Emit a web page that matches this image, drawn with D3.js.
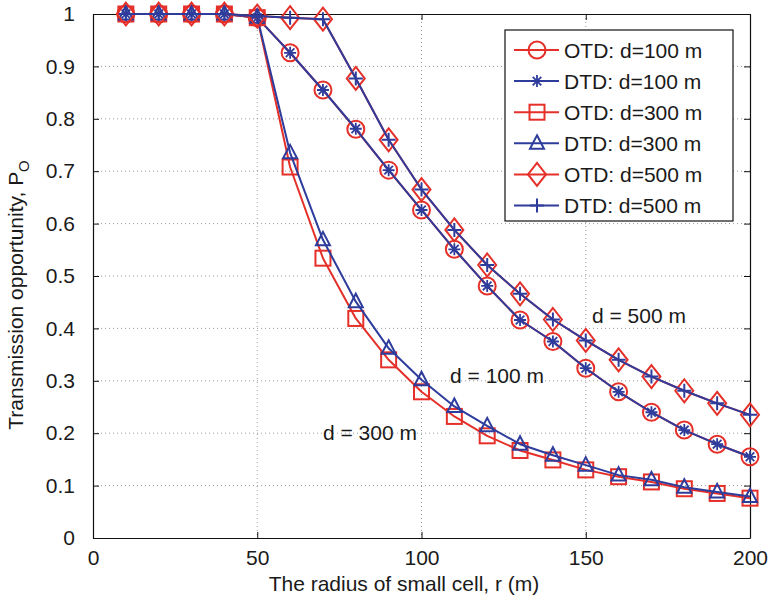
<!DOCTYPE html>
<html>
<head>
<meta charset="utf-8">
<script src="https://cdn.jsdelivr.net/npm/d3@7"></script>
<style>
  html, body { margin: 0; padding: 0; background: #fff; }
  svg { display: block; }
  text { font-family: "Liberation Sans", Arial, Helvetica, sans-serif; fill: #1a1a1a; }
</style>
</head>
<body>
<svg id="chart" width="769" height="598"></svg>
<script>
// ---------- data ----------
const radius = [10, 20, 30, 40, 50, 60, 70, 80, 90, 100, 110, 120, 130, 140, 150, 160, 170, 180, 190, 200];
const otd100 = [1, 1, 1, 1, 0.993, 0.926, 0.855, 0.780, 0.702, 0.626, 0.551, 0.481, 0.416, 0.375, 0.324, 0.279, 0.240, 0.206, 0.179, 0.155];
const dtd100 = [1, 1, 1, 1, 0.993, 0.926, 0.855, 0.781, 0.702, 0.626, 0.551, 0.481, 0.416, 0.375, 0.324, 0.279, 0.240, 0.206, 0.179, 0.155];
const otd300 = [1, 1, 1, 1, 0.993, 0.708, 0.534, 0.419, 0.340, 0.279, 0.232, 0.195, 0.167, 0.149, 0.130, 0.117, 0.107, 0.094, 0.085, 0.076];
const dtd300 = [1, 1, 1, 1, 0.994, 0.735, 0.569, 0.451, 0.362, 0.302, 0.251, 0.214, 0.179, 0.158, 0.139, 0.120, 0.111, 0.097, 0.088, 0.079];
const otd500 = [1, 1, 1, 1, 0.996, 0.993, 0.990, 0.877, 0.760, 0.665, 0.588, 0.521, 0.466, 0.417, 0.377, 0.340, 0.308, 0.281, 0.257, 0.235];
const dtd500 = [1, 1, 1, 1, 0.996, 0.993, 0.990, 0.877, 0.760, 0.665, 0.588, 0.521, 0.466, 0.417, 0.377, 0.340, 0.308, 0.281, 0.257, 0.235];

const seriesNames = ["OTD: d=100 m", "DTD: d=100 m", "OTD: d=300 m", "DTD: d=300 m", "OTD: d=500 m", "DTD: d=500 m"];
const seriesValues = [otd100, dtd100, otd300, dtd300, otd500, dtd500];
const seriesMarkers = ["circle", "asterisk", "square", "triangle", "diamond", "plus"];

const xTicks = [0, 50, 100, 150, 200];
const xTickLabels = ["0", "50", "100", "150", "200"];
const yTicks = [0, 0.1, 0.2, 0.3, 0.4, 0.5, 0.6, 0.7, 0.8, 0.9, 1];
const yTickLabels = ["0", "0.1", "0.2", "0.3", "0.4", "0.5", "0.6", "0.7", "0.8", "0.9", "1"];

const annotations = [
  { text: "d = 500 m", x: 151.9, y: 0.41 },
  { text: "d = 100 m", x: 108.7, y: 0.296 },
  { text: "d = 300 m", x: 70.0, y: 0.187 }
];

const xLabel = "The radius of small cell, r (m)";
const yLabel = "Transmission opportunity, P";
const yLabelSub = "O";

// ---------- styles ----------
const RED = "#e5302a";
const BLUE = "#2e3c9c";
const seriesColors = [RED, BLUE, RED, BLUE, RED, BLUE];
const FONT = 21;

// ---------- layout ----------
const svg = d3.select("#chart");
const L = 93, R = 750, T = 14, B = 538;
const x = d3.scaleLinear().domain([0, 200]).range([L, R]);
const y = d3.scaleLinear().domain([0, 1]).range([B, T]);

// grid
const grid = svg.append("g");
grid.selectAll("line.gx").data(xTicks.filter(d => d > 0 && d < 200)).enter().append("line")
  .attr("x1", d => x(d)).attr("x2", d => x(d)).attr("y1", T).attr("y2", B)
  .attr("stroke", "#9a9a9a").attr("stroke-width", 1).attr("stroke-dasharray", "1,3");
grid.selectAll("line.gy").data(yTicks.filter(d => d > 0 && d < 1)).enter().append("line")
  .attr("y1", d => y(d)).attr("y2", d => y(d)).attr("x1", L).attr("x2", R)
  .attr("stroke", "#9a9a9a").attr("stroke-width", 1).attr("stroke-dasharray", "1,3");

// axes (ticks inward on all sides)
function styleAxis(g) {
  g.selectAll("path.domain").attr("stroke", "#111").attr("stroke-width", 1.2);
  g.selectAll(".tick line").attr("stroke", "#111").attr("stroke-width", 1);
  g.selectAll("text").attr("font-size", FONT).attr("font-family", '"Liberation Sans", Arial, sans-serif').attr("fill", "#1a1a1a");
}
svg.append("g").attr("transform", `translate(0,${B})`)
  .call(d3.axisBottom(x).tickValues(xTicks).tickFormat((d, i) => xTickLabels[i]).tickSizeInner(-6).tickSizeOuter(0).tickPadding(12))
  .call(styleAxis);
svg.append("g").attr("transform", `translate(0,${T})`)
  .call(d3.axisTop(x).tickValues(xTicks).tickFormat("").tickSizeInner(-6).tickSizeOuter(0))
  .call(styleAxis);
svg.append("g").attr("transform", `translate(${L},0)`)
  .call(d3.axisLeft(y).tickValues(yTicks).tickFormat((d, i) => yTickLabels[i]).tickSizeInner(-6).tickSizeOuter(0).tickPadding(18))
  .call(styleAxis);
svg.append("g").attr("transform", `translate(${R},0)`)
  .call(d3.axisRight(y).tickValues(yTicks).tickFormat("").tickSizeInner(-6).tickSizeOuter(0))
  .call(styleAxis);

// marker drawing
function drawMarker(g, type, color) {
  const sw = 2;
  switch (type) {
    case "circle":
      g.append("circle").attr("r", 8.5).attr("fill", "none").attr("stroke", color).attr("stroke-width", sw); break;
    case "square":
      g.append("rect").attr("x", -7.5).attr("y", -7.5).attr("width", 15).attr("height", 15).attr("fill", "none").attr("stroke", color).attr("stroke-width", sw); break;
    case "diamond":
      g.append("path").attr("d", "M0,-11.5L9,0L0,11.5L-9,0Z").attr("fill", "none").attr("stroke", color).attr("stroke-width", sw); break;
    case "triangle":
      g.append("path").attr("d", "M0,-8L7,5.5L-7,5.5Z").attr("fill", "none").attr("stroke", color).attr("stroke-width", sw); break;
    case "plus":
      g.append("path").attr("d", "M-7,0L7,0M0,-7L0,7").attr("stroke", color).attr("stroke-width", sw); break;
    case "asterisk":
      g.append("path").attr("d", "M-6,0L6,0M0,-6L0,6M-4.3,-4.3L4.3,4.3M-4.3,4.3L4.3,-4.3").attr("stroke", color).attr("stroke-width", 1.8); break;
  }
}

// series
const line = d3.line().x(d => x(d[0])).y(d => y(d[1]));
seriesValues.forEach((vals, si) => {
  const pts = radius.map((r, i) => [r, vals[i]]);
  const g = svg.append("g");
  g.append("path").datum(pts).attr("d", line).attr("fill", "none")
    .attr("stroke", seriesColors[si]).attr("stroke-width", 2).attr("stroke-linejoin", "round");
  pts.forEach(p => {
    const mg = g.append("g").attr("transform", `translate(${x(p[0])},${y(p[1])})`);
    drawMarker(mg, seriesMarkers[si], seriesColors[si]);
  });
});

// annotations
svg.selectAll("text.ann").data(annotations).enter().append("text")
  .attr("x", d => x(d.x)).attr("y", d => y(d.y)).attr("font-size", FONT).text(d => d.text);

// axis labels
svg.append("text").attr("x", 404).attr("y", 591).attr("text-anchor", "middle")
  .attr("font-size", FONT).text(xLabel);
const yl = svg.append("text").attr("transform", "translate(23,295) rotate(-90)")
  .attr("text-anchor", "middle").attr("font-size", FONT);
yl.append("tspan").text(yLabel);
yl.append("tspan").attr("dy", 6).attr("font-size", 15).text(yLabelSub);

// legend
const lg = svg.append("g");
const LX = 505, LY = 30, LW = 228, LH = 191;
lg.append("rect").attr("x", LX).attr("y", LY).attr("width", LW).attr("height", LH)
  .attr("fill", "#fff").attr("stroke", "#111").attr("stroke-width", 1.2);
seriesNames.forEach((name, i) => {
  const cy = 50 + i * 31.1;
  lg.append("line").attr("x1", 514).attr("x2", 559).attr("y1", cy).attr("y2", cy)
    .attr("stroke", seriesColors[i]).attr("stroke-width", 2);
  drawMarker(lg.append("g").attr("transform", `translate(537,${cy})`), seriesMarkers[i], seriesColors[i]);
  lg.append("text").attr("x", 564).attr("y", cy + 7.5).attr("font-size", FONT).text(name);
});
</script>
</body>
</html>
